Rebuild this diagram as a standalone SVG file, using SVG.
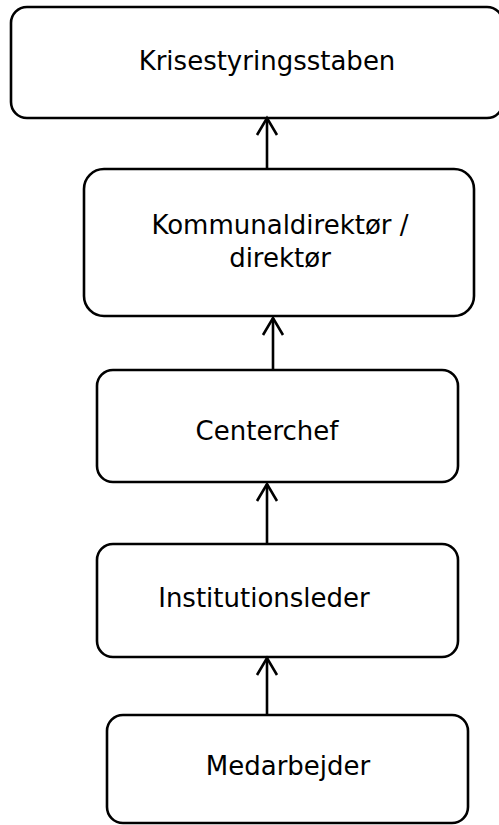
<svg xmlns="http://www.w3.org/2000/svg" width="499" height="825" viewBox="0 0 499 825">
<style>
.box{fill:#fff;stroke:#000;stroke-width:2.6}
.lbl{font-family:"DejaVu Sans",Verdana,sans-serif;font-size:26px;fill:#000;text-anchor:middle}
.conn{stroke:#000;stroke-width:2.6;fill:none}
</style>
<defs>
<marker id="arr" markerUnits="userSpaceOnUse" markerWidth="30" markerHeight="30" refX="0" refY="0" orient="auto" overflow="visible">
<path d="M -17 -10 L 0 0 L -17 10" fill="none" stroke="#000" stroke-width="2.6"/>
</marker>
</defs>
<rect width="499" height="825" fill="#fff"/>
<g id="n1"><rect class="box" x="11" y="7" width="492" height="111" rx="16"/><text class="lbl" x="267" y="70">Krisestyringsstaben</text></g>
<g id="n2"><rect class="box" x="84" y="169" width="390" height="147" rx="20"/><text class="lbl" x="280" y="234">Kommunaldirektør /</text><text class="lbl" x="280" y="267">direktør</text></g>
<g id="n3"><rect class="box" x="97" y="370" width="361" height="112" rx="16"/><text class="lbl" x="267" y="440">Centerchef</text></g>
<g id="n4"><rect class="box" x="97" y="544" width="361" height="113" rx="16"/><text class="lbl" x="264" y="607">Institutionsleder</text></g>
<g id="n5"><rect class="box" x="107" y="715" width="361" height="108" rx="16"/><text class="lbl" x="288" y="775">Medarbejder</text></g>
<g id="connectors">
<line class="conn" x1="267" y1="169" x2="267" y2="118" marker-end="url(#arr)"/>
<line class="conn" x1="273" y1="370" x2="273" y2="318" marker-end="url(#arr)"/>
<line class="conn" x1="267" y1="544" x2="267" y2="484" marker-end="url(#arr)"/>
<line class="conn" x1="267" y1="715" x2="267" y2="658" marker-end="url(#arr)"/>
</g>
</svg>
